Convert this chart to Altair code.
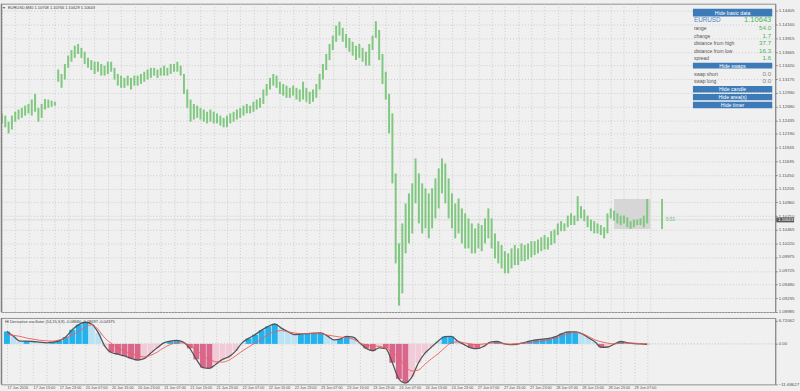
import altair as alt
import pandas as pd
import numpy as np

FONT = "Liberation Sans"

# ---------------- data ----------------
time_labels = ["17 Jun 2016", "17 Jun 15:00", "17 Jun 23:00", "20 Jun 07:00", "20 Jun 15:00",
               "20 Jun 23:00", "21 Jun 07:00", "21 Jun 15:00", "21 Jun 23:00", "22 Jun 07:00",
               "22 Jun 15:00", "22 Jun 23:00", "23 Jun 07:00", "23 Jun 15:00", "23 Jun 23:00",
               "24 Jun 07:00", "24 Jun 15:00", "24 Jun 23:00", "27 Jun 07:00", "27 Jun 15:00",
               "27 Jun 23:00", "28 Jun 07:00", "28 Jun 15:00", "28 Jun 23:00", "29 Jun 07:00"]

price_ticks = [1.14405, 1.14160, 1.13915, 1.13665, 1.13420, 1.13175, 1.12930, 1.12680,
               1.12435, 1.12190, 1.11945, 1.11695, 1.11450, 1.11205, 1.10960, 1.10710,
               1.10465, 1.10220, 1.09975, 1.09725, 1.09480, 1.09235, 1.08985]

osc_ticks = [6.72062, 0.0, -11.68627]

# hourly highs / lows (one entry per two M30 bars)
highs = [1.1256, 1.1252, 1.1241, 1.1252, 1.1259, 1.1263, 1.1266, 1.1270, 1.1273, 1.1281,
         1.1291, 1.1266, 1.1273, 1.1282, 1.1281, 1.1279, 1.1277, 1.1335, 1.1327, 1.1345,
         1.1360, 1.1370, 1.1378, 1.1381, 1.1374, 1.1367, 1.1356, 1.1352, 1.1349, 1.1349,
         1.1345, 1.1342, 1.1349, 1.1349, 1.1338, 1.1327, 1.1324, 1.1320, 1.1324, 1.1320,
         1.1324, 1.1324, 1.1327, 1.1331, 1.1335, 1.1338, 1.1338, 1.1335, 1.1338, 1.1342,
         1.1338, 1.1345, 1.1345, 1.1349, 1.1342, 1.1327, 1.1299, 1.1281, 1.1273, 1.1270,
         1.1266, 1.1263, 1.1259, 1.1263, 1.1259, 1.1256, 1.1252, 1.1248, 1.1252, 1.1256,
         1.1259, 1.1263, 1.1266, 1.1270, 1.1273, 1.1270, 1.1277, 1.1281, 1.1284, 1.1299,
         1.1309, 1.1320, 1.1327, 1.1324, 1.1313, 1.1309, 1.1306, 1.1302, 1.1306, 1.1302,
         1.1299, 1.1313, 1.1302, 1.1295, 1.1299, 1.1309, 1.1327, 1.1345, 1.1363, 1.1381,
         1.1396, 1.1414, 1.1421, 1.1410, 1.1399, 1.1392, 1.1385, 1.1378, 1.1381, 1.1374,
         1.1367, 1.1381, 1.1396, 1.1422, 1.1406, 1.1363, 1.1331, 1.1291, 1.1256, 1.1148,
         1.1022, 1.1058, 1.1094, 1.1112, 1.1130, 1.1175, 1.1148, 1.1130, 1.1121, 1.1112,
         1.1121, 1.1139, 1.1157, 1.1175, 1.1166, 1.1139, 1.1112, 1.1094, 1.1103, 1.1085,
         1.1076, 1.1067, 1.1058, 1.1049, 1.1058, 1.1055, 1.1067, 1.1085, 1.1067, 1.1040,
         1.1026, 1.1019, 1.1008, 1.1004, 1.1013, 1.1019, 1.1013, 1.1022, 1.1019, 1.1022,
         1.1026, 1.1026, 1.1029, 1.1033, 1.1037, 1.1033, 1.1044, 1.1047, 1.1058, 1.1062,
         1.1058, 1.1072, 1.1076, 1.1072, 1.1107, 1.1089, 1.1083, 1.1072, 1.1065, 1.1062,
         1.1058, 1.1055, 1.1051, 1.1076, 1.1085, 1.1081, 1.1076, 1.1072, 1.1072, 1.1069,
         1.1062, 1.1065, 1.1065, 1.1067, 1.1072, 1.1102]

lows = [1.1238, 1.1231, 1.1220, 1.1227, 1.1241, 1.1245, 1.1248, 1.1252, 1.1256, 1.1252,
        1.1259, 1.1241, 1.1248, 1.1263, 1.1266, 1.1268, 1.1270, 1.1313, 1.1302, 1.1317,
        1.1338, 1.1349, 1.1356, 1.1363, 1.1356, 1.1345, 1.1338, 1.1334, 1.1327, 1.1331,
        1.1324, 1.1324, 1.1327, 1.1331, 1.1317, 1.1306, 1.1302, 1.1302, 1.1306, 1.1299,
        1.1306, 1.1306, 1.1309, 1.1313, 1.1317, 1.1320, 1.1324, 1.1320, 1.1324, 1.1324,
        1.1324, 1.1327, 1.1331, 1.1331, 1.1324, 1.1291, 1.1266, 1.1241, 1.1245, 1.1248,
        1.1245, 1.1241, 1.1238, 1.1241, 1.1238, 1.1238, 1.1234, 1.1231, 1.1231, 1.1238,
        1.1241, 1.1245, 1.1248, 1.1252, 1.1256, 1.1256, 1.1259, 1.1263, 1.1266, 1.1273,
        1.1288, 1.1299, 1.1306, 1.1302, 1.1291, 1.1288, 1.1284, 1.1284, 1.1288, 1.1281,
        1.1277, 1.1281, 1.1277, 1.1273, 1.1277, 1.1284, 1.1299, 1.1317, 1.1334, 1.1352,
        1.1370, 1.1385, 1.1396, 1.1385, 1.1374, 1.1367, 1.1360, 1.1352, 1.1356, 1.1349,
        1.1342, 1.1342, 1.1370, 1.1392, 1.1352, 1.1309, 1.1281, 1.1220, 1.1130, 1.0986,
        1.0910, 1.0932, 1.1004, 1.1022, 1.1040, 1.1094, 1.1058, 1.1040, 1.1049, 1.1031,
        1.1049, 1.1067, 1.1085, 1.1112, 1.1094, 1.1067, 1.1049, 1.1031, 1.1040, 1.1022,
        1.1013, 1.1013, 1.1004, 1.1004, 1.1013, 1.1008, 1.1022, 1.1031, 1.1013, 1.0995,
        1.0986, 1.0977, 1.0968, 1.0968, 1.0977, 1.0983, 1.0983, 1.0990, 1.0990, 1.0993,
        1.0997, 1.1001, 1.1004, 1.1008, 1.1011, 1.1011, 1.1019, 1.1022, 1.1037, 1.1044,
        1.1044, 1.1051, 1.1055, 1.1055, 1.1062, 1.1067, 1.1062, 1.1051, 1.1044, 1.1040,
        1.1040, 1.1037, 1.1031, 1.1040, 1.1067, 1.1063, 1.1058, 1.1055, 1.1058, 1.1051,
        1.1048, 1.1051, 1.1055, 1.1055, 1.1051, 1.1058]

# oscillator (every 4 M30 bars)
osc = [3.6, 2.2, 0.8, 0.8, 0.7, 0.5, 0.3, 0.5, 0.9, 2.0,
       4.1, 5.6, 6.3, 5.7, 3.2, -0.7, -2.5, -3.0, -3.5, -4.2,
       -4.7, -4.3, -2.7, -1.15, 0.3, 0.8, 1.0, 0.5, -1.3, -4.5,
       -6.9, -7.1, -5.9, -4.5, -3.7, -2.1, 0.3, 1.6, 2.7, 4.0,
       5.1, 5.8, 4.6, 3.6, 2.7, 2.9, 3.0, 3.1, 3.2, 2.4,
       1.2, 1.4, 2.2, 2.0, 0.3, -1.3, -2.0, -1.15, -1.4, -5.5,
       -10.2, -11.4, -9.6, -5.5, -2.7, -0.9, 0.8, 2.1, 2.2, 0.8,
       -0.2, -1.15, -1.4, -0.7, 0.5, 0.7, 0.1, -0.2, -0.1, 0.3,
       0.8, 1.2, 1.4, 1.6, 2.1, 3.0, 3.5, 3.5, 3.0, 1.8,
       0.6, -1.0, -0.9, 0.0, 0.7, 0.3, 0.1, 0.0, -0.1]
sig = [2.7, 2.5, 2.2, 1.7, 1.4, 1.05, 0.9, 0.8, 1.15, 1.7,
       2.7, 3.6, 4.9, 5.6, 4.1, 1.7, 0.1, -1.15, -2.1, -2.8,
       -3.35, -3.8, -3.35, -2.4, -1.15, -0.2, 0.3, 0.3, -0.5, -1.6,
       -3.5, -4.5, -5.2, -5.3, -4.7, -3.5, -2.1, -0.9, 0.3, 1.4,
       2.8, 3.5, 3.9, 3.5, 3.2, 3.0, 3.0, 3.0, 3.0, 2.6,
       2.3, 2.0, 1.8, 1.4, 0.3, -0.3, -0.6, -0.7, -1.3, -2.4,
       -4.0, -6.6, -7.9, -7.6, -5.9, -4.3, -2.9, -1.15, 0.3, 0.6,
       0.3, 0.0, -0.2, 0.0, 0.2, 0.3, 0.1, -0.1, 0.0, 0.2,
       0.4, 0.6, 0.9, 1.2, 1.7, 2.4, 3.0, 3.4, 3.0, 2.2,
       1.2, 0.6, 0.2, 0.0, 0.2, 0.2, 0.2, 0.1, 0.0]

last_price = [1.10643]
day_high = [1.1102]
day_low = [1.1048]
day_start_bar = [370]
day_end_bar = [392]
candle_bar = [399]
timer_text = ["5:53"]

title_text = "EURUSD,M30  1.10708 1.10766 1.10629 1.10643"
osc_title = "HI Derivative oscillator (14,15,3,9) -0.08680 -0.08697 -0.04375"

symbol = "EURUSD"
info_labels = ["range", "change", "distance from high", "distance from low", "spread"]
info_values = ["54.0", "1.7", "37.7", "16.3", "1.6"]
swap_labels = ["swap short", "swap long"]
swap_values = ["0.0", "0.0"]
buttons = ["Hide basic data", "Hide swaps", "Hide candle", "Hide area(s)", "Hide timer"]

# ---------------- layout constants ----------------
W = 781
H_TOP = 311
H_BOT = 67
PX_PER_BAR = 26.7 / 16
XMAX = W / PX_PER_BAR
XDOM = [-0.6, XMAX - 0.6]
grid_x = list(range(0, 400, 8))

BG = "#f0f0f0"
GRID = "#c4c4c4"
GREEN = "#5cb85c"

df_price = pd.DataFrame({"b": [2 * i for i in range(len(highs))], "low": lows, "high": highs})
k = np.arange(len(osc))
osc_a = np.array(osc)
prev = np.concatenate([[osc_a[0]], osc_a[:-1]])
grow = np.abs(osc_a) >= np.abs(prev)
cat = np.where(osc_a >= 0, np.where(grow, "pos_up", "pos_dn"), np.where(grow, "neg_up", "neg_dn"))
df_osc = pd.DataFrame({"b": k * 4, "osc": osc, "sig": sig, "cat": cat})

xs = alt.Scale(domain=XDOM, nice=False, zero=False)
ys_top = alt.Scale(domain=[1.08985, 1.14535], nice=False, zero=False)
ys_bot = alt.Scale(domain=[-11.78, 7.56], nice=False, zero=False)

# shared axis definitions (used identically in every layer so they merge)
x_top_axis = alt.Axis(values=grid_x, labels=False, ticks=False, domain=False, title=None,
                      grid=True, gridColor=GRID, gridDash=[1, 2], gridWidth=0.8, maxExtent=0, minExtent=0)
y_top_axis = alt.Axis(orient="right", values=price_ticks, format=".5f", title=None, grid=True,
                      gridColor=GRID, gridDash=[1, 2], gridWidth=0.8, labelFont=FONT,
                      labelFontSize=4.4, labelColor="#505050", tickSize=2, tickColor="#888",
                      domainColor="#888", labelPadding=1, labelOverlap=False, labelFlush=False,
                      maxExtent=19, minExtent=19)
label_js = "[" + ",".join("'" + s + "'" for s in time_labels) + "]"
x_bot_axis = alt.Axis(values=grid_x, title=None, grid=True, gridColor=GRID, gridDash=[1, 2], gridWidth=0.8,
                      ticks=False, domain=False, labelFont=FONT, labelFontSize=3.8, labelColor="#505050",
                      labelAlign="left", labelBaseline="top", labelPadding=1.2, labelFlush=False,
                      labelOverlap=False,
                      labelExpr=f"datum.value % 16 == 0 ? {label_js}[datum.value / 16] : ''",
                      maxExtent=6, minExtent=6)
y_bot_axis = alt.Axis(orient="right", values=osc_ticks, title=None, grid=False,
                      labelExpr="datum.value == 0 ? '0.00' : format(datum.value, '.5f')",
                      labelFont=FONT, labelFontSize=4.4, labelColor="#505050", tickSize=2,
                      tickColor="#888", domainColor="#888", labelPadding=1, labelOverlap=False,
                      labelFlush=False, maxExtent=19, minExtent=19)


def XT(f):
    return alt.X(f, scale=xs, axis=x_top_axis)


def YT(f):
    return alt.Y(f, scale=ys_top, axis=y_top_axis)


def XB(f):
    return alt.X(f, scale=xs, axis=x_bot_axis)


def YB(f):
    return alt.Y(f, scale=ys_bot, axis=y_bot_axis)


def txt(s, x, y, size, color, align="left", weight="normal"):
    return alt.Chart(pd.DataFrame({"t": [s]})).mark_text(
        align=align, baseline="middle", font=FONT, fontSize=size, color=color, fontWeight=weight
    ).encode(x=alt.value(x), y=alt.value(y), text="t:N")


def box(x0, x1, y0, y1, color):
    return alt.Chart(pd.DataFrame({"a": [0]})).mark_rect(color=color).encode(
        x=alt.value(x0), x2=alt.value(x1), y=alt.value(y0), y2=alt.value(y1))


# ---------------- top panel ----------------
bars = alt.Chart(df_price).mark_rule(color="#80c880", strokeWidth=2.0).encode(
    x=XT("b:Q"), y=YT("low:Q"), y2="high:Q")

area_df = pd.DataFrame({"b0": day_start_bar, "b1": day_end_bar, "lo": day_low, "hi": day_high})
area = alt.Chart(area_df).mark_rect(color="#d6d6d6").encode(
    x=XT("b0:Q"), x2="b1:Q", y=YT("lo:Q"), y2="hi:Q")

cand_df = pd.DataFrame({"b": candle_bar, "lo": day_low, "hi": day_high, "p": last_price, "t": timer_text})
candle = alt.Chart(cand_df).mark_rule(color=GREEN, strokeWidth=1.4).encode(
    x=XT("b:Q"), y=YT("lo:Q"), y2="hi:Q")
timer = alt.Chart(cand_df).mark_text(align="left", baseline="middle", dx=4, font=FONT, fontSize=4.6,
                                     color="#6cc070").encode(
    x=XT("b:Q"), y=YT("p:Q"), text="t:N")

lp_df = pd.DataFrame({"p": last_price, "t": [f"{last_price[0]:.5f}"]})
bid_line = alt.Chart(lp_df).mark_rule(color="#d2d2d2", strokeWidth=0.7).encode(y=YT("p:Q"))
lp_box = alt.Chart(lp_df).mark_rule(color="#5a5a5a", strokeWidth=5).encode(
    x=alt.value(W + 1), x2=alt.value(800), y=YT("p:Q"))
lp_txt = alt.Chart(lp_df).mark_text(align="left", baseline="middle", font=FONT, fontSize=4.2,
                                    color="white").encode(
    x=alt.value(W + 3), y=YT("p:Q"), text="t:N")

left_border = alt.Chart(pd.DataFrame({"a": [0]})).mark_rule(color="#808080", strokeWidth=1.5).encode(
    x=alt.value(0.5), y=alt.value(0), y2=alt.value(H_TOP))

layers = [area, bid_line, bars, candle, timer, lp_box, lp_txt, left_border]

# title
layers.append(txt("\u25BE", 2, 4.5, 4.5, "#505050"))
layers.append(txt(title_text, 7, 4.5, 4.0, "#404040"))

# info panel
PX0, PX1 = 698, 778
btn_y = [(5, 13), (59.5, 65.5), (83, 89.5), (91, 97.5), (99, 105.5)]
for name, (y0, y1) in zip(buttons, btn_y):
    layers.append(box(PX0, PX1, y0, y1, "#3d7ab8"))
    layers.append(txt(name, (PX0 + PX1) / 2, (y0 + y1) / 2 + 0.2, 5.2, "white", align="center"))

layers.append(txt(symbol, PX0 + 1, 16.8, 6.4, "#4a86c5"))
layers.append(txt(f"{last_price[0]:.5f}", PX1 - 1, 16.8, 7.6, "#45b55a", align="right"))
row_y = [25, 32.4, 40, 47.4, 55]
for lab, val, yy in zip(info_labels, info_values, row_y):
    layers.append(txt(lab, PX0 + 1, yy, 5.0, "#555555"))
    layers.append(txt(val, PX1 - 1, yy, 6.3, "#45b55a", align="right"))
for lab, val, yy in zip(swap_labels, swap_values, [70.7, 78.3]):
    layers.append(txt(lab, PX0 + 1, yy, 5.0, "#555555"))
    layers.append(txt(val, PX1 - 1, yy, 6.3, "#808080", align="right"))

top = alt.layer(*layers).properties(width=W, height=H_TOP)

# ---------------- bottom panel ----------------
hist = alt.Chart(df_osc).mark_bar(width=6.0).encode(
    x=XB("b:Q"),
    y=YB("osc:Q"),
    y2=alt.datum(0),
    color=alt.Color("cat:N", legend=None,
                    scale=alt.Scale(domain=["pos_up", "pos_dn", "neg_up", "neg_dn"],
                                    range=["#22b2ee", "#b9e3f5", "#d9678b", "#f3cad7"])),
)
zero_df = pd.DataFrame({"z": [0.0]})
zero = alt.Chart(zero_df).mark_rule(color="#b0b0b0", strokeDash=[1, 2], strokeWidth=0.8).encode(y=YB("z:Q"))
osc_line = alt.Chart(df_osc).mark_line(color="#555555", strokeWidth=1.3, interpolate="monotone").encode(
    x=XB("b:Q"), y=YB("osc:Q"))
sig_line = alt.Chart(df_osc).mark_line(color="#f05a5a", strokeWidth=0.9, interpolate="monotone").encode(
    x=XB("b:Q"), y=YB("sig:Q"))
left_border2 = alt.Chart(pd.DataFrame({"a": [0]})).mark_rule(color="#808080", strokeWidth=1.5).encode(
    x=alt.value(0.5), y=alt.value(0), y2=alt.value(H_BOT))

bottom = alt.layer(zero, hist, osc_line, sig_line, left_border2,
                   txt(osc_title, 4, 4.5, 4.0, "#404040")).properties(width=W, height=H_BOT)

chart = alt.vconcat(top, bottom, spacing=2).configure(
    background=BG, padding=0, font=FONT
).configure_view(fill=BG, stroke="#909090", strokeWidth=1).configure_axis(minExtent=0)

chart.save("out.html", embed_options={"renderer": "svg", "actions": False})
